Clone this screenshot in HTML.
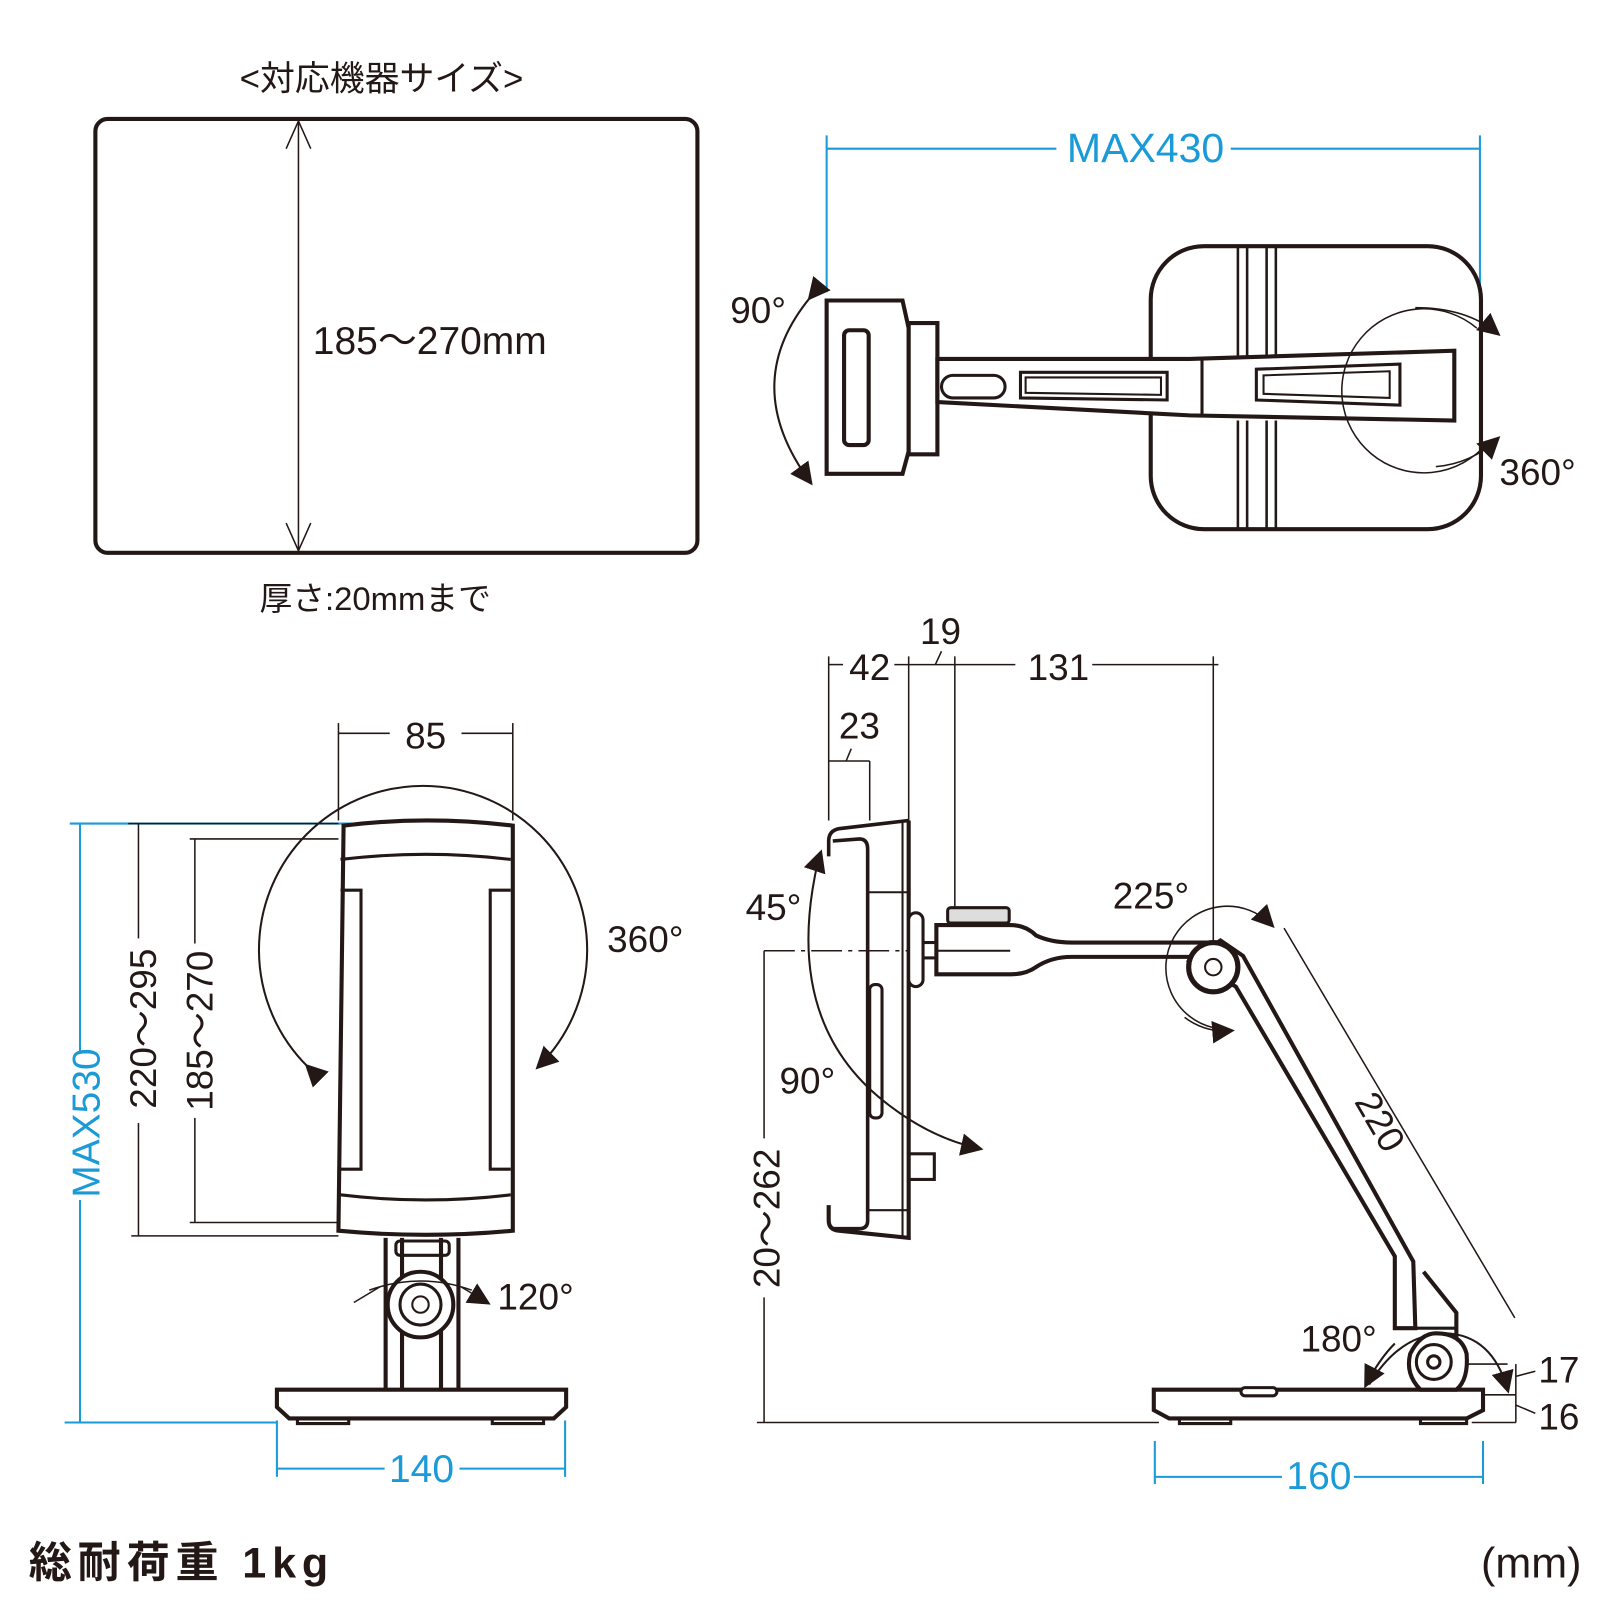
<!DOCTYPE html>
<html><head><meta charset="utf-8"><style>
html,body{margin:0;padding:0;background:#fff}
svg{display:block}
text{font-family:"Liberation Sans","Noto Sans CJK JP",sans-serif;fill:#231815}
.b{fill:#1a9ad6}
</style></head><body>
<svg width="1600" height="1600" viewBox="0 0 1600 1600" xmlns="http://www.w3.org/2000/svg">
<defs>
<marker id="ahb" markerWidth="22" markerHeight="22" refX="18" refY="11" orient="auto" markerUnits="userSpaceOnUse"><path d="M0,0 L22,11 L0,22 Z" fill="#231815"/></marker>
</defs>
<g transform="scale(1.0256)">
<g fill="none" stroke="#231815">
<!-- top-left -->
<rect x="93" y="116" width="587" height="423" rx="12" stroke-width="4"/>
<line x1="291" y1="118" x2="291" y2="537" stroke-width="1.5"/>
<path d="M279,145 L291,118 L303,145 M279,510 L291,537 L303,510" stroke-width="1.5"/>

<!-- top-right -->
<g stroke="#1a9ad6" stroke-width="2">
<line x1="806" y1="145" x2="1030" y2="145"/><line x1="1200" y1="145" x2="1443" y2="145"/>
<line x1="806" y1="132" x2="806" y2="285"/><line x1="1443" y1="132" x2="1443" y2="285"/>
</g>
<rect x="1122" y="240" width="322" height="276" rx="52" stroke-width="4"/>
<g stroke-width="2.5"><line x1="1207" y1="240" x2="1207" y2="350"/><line x1="1216" y1="240" x2="1216" y2="350"/><line x1="1235" y1="240" x2="1235" y2="350"/><line x1="1244" y1="240" x2="1244" y2="350"/>
<line x1="1207" y1="410" x2="1207" y2="516"/><line x1="1216" y1="410" x2="1216" y2="516"/><line x1="1235" y1="410" x2="1235" y2="516"/><line x1="1244" y1="410" x2="1244" y2="516"/></g>
<path d="M806,293 L880,293 L886,320 L886,440 L880,462 L806,462 Z" stroke-width="4" fill="#fff"/>
<rect x="823" y="322" width="24" height="112" rx="5" stroke-width="4"/>
<rect x="886" y="315" width="28" height="128" stroke-width="4" fill="#fff"/>
<path d="M914,350 L1160,350 L1418,342 L1418,410 L1160,405 L914,392 Z" stroke-width="4" fill="#fff"/>
<rect x="918" y="366" width="62" height="22" rx="11" stroke-width="3"/>
<path d="M995,363 L1138,363 L1138,390 L995,388 Z" stroke-width="3"/>
<path d="M1000,368 L1132,368 L1132,385 L1000,383 Z" stroke-width="2"/>
<path d="M1225,360 L1365,355 L1365,395 L1225,390 Z" stroke-width="3"/>
<path d="M1232,366 L1355,362 L1355,388 L1232,384 Z" stroke-width="2"/>
<line x1="1172" y1="350" x2="1172" y2="405" stroke-width="3"/>
<path d="M1440,320 A80,80 0 1 0 1450,432" stroke-width="1.5"/>
<path d="M1380,300 Q1430,300 1460,325" stroke-width="1.5" marker-end="url(#ahb)"/>
<path d="M1400,455 Q1435,452 1460,428" stroke-width="1.5" marker-end="url(#ahb)"/>
<path d="M790,290 Q720,375 790,470" stroke-width="2" marker-start="url(#ahb)" marker-end="url(#ahb)"/>

<!-- bottom-left -->
<g stroke="#1a9ad6" stroke-width="2">
<line x1="78" y1="803" x2="78" y2="1025"/><line x1="78" y1="1170" x2="78" y2="1387"/>
<line x1="68" y1="803" x2="350" y2="803"/><line x1="63" y1="1387" x2="270" y2="1387"/>
<line x1="270" y1="1432" x2="375" y2="1432"/><line x1="448" y1="1432" x2="551" y2="1432"/>
<line x1="270" y1="1385" x2="270" y2="1440"/><line x1="551" y1="1385" x2="551" y2="1440"/>
</g>
<g stroke-width="1.5">
<line x1="135" y1="803" x2="135" y2="915"/><line x1="135" y1="1095" x2="135" y2="1205"/>
<line x1="125" y1="803" x2="330" y2="803"/><line x1="128" y1="1205" x2="330" y2="1205"/>
<line x1="190" y1="818" x2="190" y2="920"/><line x1="190" y1="1090" x2="190" y2="1192"/>
<line x1="185" y1="818" x2="330" y2="818"/><line x1="185" y1="1192" x2="330" y2="1192"/>
<line x1="330" y1="715" x2="380" y2="715"/><line x1="450" y1="715" x2="500" y2="715"/>
<line x1="330" y1="705" x2="330" y2="800"/><line x1="500" y1="705" x2="500" y2="800"/>
</g>
<path d="M335,805 Q415,795 500,805 L500,1200 Q415,1208 330,1200 Z" stroke-width="4" fill="#fff"/>
<path d="M332,838 Q415,828 498,838 M332,1165 Q415,1175 498,1165" stroke-width="3"/>
<path d="M332,868 L352,868 L352,1140 L332,1140 M498,868 L478,868 L478,1140 L498,1140" stroke-width="3"/>
<path d="M300,1040 A160,160 0 1 1 525,1040" stroke-width="2" marker-start="url(#ahb)" marker-end="url(#ahb)"/>
<path d="M376,1207 L376,1355 M447,1207 L447,1355 M392,1207 L392,1355 M430,1207 L430,1355" stroke-width="4"/>
<rect x="386" y="1210" width="52" height="14" rx="4" stroke-width="3"/>
<circle cx="410" cy="1272" r="32" stroke-width="4" fill="#fff"/>
<circle cx="410" cy="1272" r="20" stroke-width="3"/>
<circle cx="410" cy="1272" r="8" stroke-width="2"/>
<path d="M360,1258 Q410,1240 460,1258" stroke-width="1.5"/>
<path d="M370,1255 L345,1270 M450,1255 L475,1270" stroke-width="1.5" marker-end="url(#ahb)"/>
<path d="M270,1355 L552,1355 L552,1372 L540,1383 L282,1383 L270,1372 Z" stroke-width="4" fill="#fff"/>
<path d="M290,1383 L340,1383 L340,1388 L290,1388 Z M480,1383 L530,1383 L530,1388 L480,1388 Z" stroke-width="3"/>

<!-- bottom-right -->
<g stroke-width="1.5">
<line x1="808" y1="648" x2="822" y2="648"/><line x1="872" y1="648" x2="990" y2="648"/><line x1="1065" y1="648" x2="1188" y2="648"/>
<line x1="808" y1="640" x2="808" y2="800"/><line x1="886" y1="640" x2="886" y2="800"/><line x1="931" y1="640" x2="931" y2="900"/><line x1="1183" y1="640" x2="1183" y2="943"/>
<line x1="918" y1="635" x2="912" y2="648"/>
<line x1="808" y1="742" x2="848" y2="742"/><line x1="848" y1="742" x2="848" y2="800"/><line x1="830" y1="730" x2="825" y2="742"/>
<line x1="745" y1="927" x2="1183" y2="927" stroke-dasharray="30,6,4,6"/>
<line x1="745" y1="927" x2="745" y2="1110"/><line x1="745" y1="1265" x2="745" y2="1387"/>
<line x1="738" y1="1387" x2="1130" y2="1387"/>
<line x1="1252" y1="905" x2="1477" y2="1285"/>
<line x1="1395" y1="1330" x2="1470" y2="1330"/><line x1="1435" y1="1360" x2="1478" y2="1360"/><line x1="1435" y1="1387" x2="1478" y2="1387"/>
<line x1="1478" y1="1330" x2="1478" y2="1387"/>
<line x1="1478" y1="1342" x2="1497" y2="1337"/><line x1="1478" y1="1370" x2="1497" y2="1378"/>
</g>
<g stroke="#1a9ad6" stroke-width="2">
<line x1="1126" y1="1440" x2="1250" y2="1440"/><line x1="1320" y1="1440" x2="1446" y2="1440"/>
<line x1="1126" y1="1405" x2="1126" y2="1447"/><line x1="1446" y1="1405" x2="1446" y2="1447"/>
</g>
<path d="M886,800 L886,1207 L818,1200 Q808,1199 808,1190 L808,1175" stroke-width="4"/>
<path d="M886,800 L818,808 Q808,810 808,820 L808,835 M812,820 L838,818 Q846,818 846,828 L846,1190 Q846,1198 838,1198 L812,1198" stroke-width="3.5"/>
<line x1="846" y1="870" x2="886" y2="870" stroke-width="2"/><line x1="846" y1="1180" x2="886" y2="1180" stroke-width="2"/>
<line x1="880" y1="800" x2="880" y2="1207" stroke-width="2"/>
<rect x="848" y="960" width="12" height="130" rx="5" stroke-width="3"/>
<rect x="886" y="1125" width="25" height="25" stroke-width="3"/>
<rect x="886" y="890" width="14" height="72" rx="7" stroke-width="3" fill="#fff"/>
<rect x="900" y="919" width="13" height="15" stroke-width="3" fill="#fff"/>
<rect x="924" y="885" width="60" height="15" rx="3" stroke-width="3" fill="#ddd"/>
<path d="M913,902 L985,902 Q1000,902 1010,912 Q1025,919 1045,919 L1183,919 L1183,933 L1045,933 Q1025,933 1010,943 Q1000,950 985,950 L913,950 Z" stroke-width="4" fill="#fff"/>
<line x1="913" y1="927" x2="985" y2="927" stroke-width="2"/>
<path d="M1160,937 L1190,917 L1212,932 L1378,1230 L1380,1295 L1360,1295 L1360,1225 L1205,962 Z" stroke-width="4" fill="#fff"/>
<path d="M1388,1240 L1420,1280 L1420,1345" stroke-width="4"/>
<path d="M1360,1295 L1420,1295" stroke-width="3"/>
<circle cx="1183" cy="943" r="24" stroke-width="5" fill="#fff"/>
<circle cx="1183" cy="943" r="8" stroke-width="2"/>
<path d="M1183,1002 A60,60 0 1 1 1240,902" stroke-width="1.5" marker-end="url(#ahb)"/>
<path d="M1155,992 Q1175,1007 1200,1005" stroke-width="1.5" marker-end="url(#ahb)"/>
<path d="M798,838 Q760,1000 870,1080 Q910,1110 955,1120" stroke-width="2" marker-end="url(#ahb)"/>
<path d="M798,838 L800,832" stroke-width="2" marker-end="url(#ahb)"/>
<path d="M1125,1355 L1446,1355 L1446,1375 L1430,1383 L1140,1383 L1125,1375 Z" stroke-width="4" fill="#fff"/>
<rect x="1210" y="1353" width="35" height="8" rx="4" stroke-width="3" fill="#fff"/>
<path d="M1150,1383 L1200,1383 L1200,1388 L1150,1388 Z M1385,1383 L1430,1383 L1430,1388 L1385,1388 Z" stroke-width="3"/>
<path d="M1385,1355 Q1370,1340 1375,1320 Q1385,1300 1400,1300 Q1425,1300 1430,1320 Q1432,1345 1420,1355 Z" stroke-width="4" fill="#fff"/>
<circle cx="1398" cy="1328" r="17" stroke-width="3"/><circle cx="1398" cy="1328" r="6" stroke-width="3"/>
<path d="M1335,1350 Q1365,1300 1410,1300 Q1455,1302 1470,1355" stroke-width="2" marker-end="url(#ahb)"/>
<path d="M1360,1310 Q1345,1325 1332,1350" stroke-width="2" marker-end="url(#ahb)"/>
</g>
<!-- texts -->
<text x="372" y="88" font-size="34" text-anchor="middle">&lt;対応機器サイズ&gt;</text>
<text x="305" y="345" font-size="38">185～270mm</text>
<text x="253" y="595" font-size="32">厚さ:20mmまで</text>
<text x="1117" y="158" font-size="40" text-anchor="middle" class="b">MAX430</text>
<text x="712" y="315" font-size="36">90°</text>
<text x="1462" y="473" font-size="36">360°</text>
<text x="415" y="730" font-size="36" text-anchor="middle">85</text>
<text x="592" y="928" font-size="36">360°</text>
<text x="485" y="1277" font-size="36">120°</text>
<text x="411" y="1445" font-size="38" text-anchor="middle" class="b">140</text>
<text transform="translate(97,1095) rotate(-90)" font-size="38" text-anchor="middle" class="b">MAX530</text>
<text transform="translate(152,1003) rotate(-90)" font-size="36" text-anchor="middle">220～295</text>
<text transform="translate(207,1005) rotate(-90)" font-size="36" text-anchor="middle">185～270</text>
<text x="848" y="663" font-size="36" text-anchor="middle">42</text>
<text x="917" y="628" font-size="36" text-anchor="middle">19</text>
<text x="1032" y="663" font-size="36" text-anchor="middle">131</text>
<text x="838" y="720" font-size="36" text-anchor="middle">23</text>
<text x="727" y="897" font-size="36">45°</text>
<text x="1085" y="886" font-size="36">225°</text>
<text x="760" y="1066" font-size="36">90°</text>
<text transform="translate(760,1188) rotate(-90)" font-size="36" text-anchor="middle">20～262</text>
<text transform="translate(1335,1100) rotate(60)" font-size="36" text-anchor="middle">220</text>
<text x="1268" y="1318" font-size="36">180°</text>
<text x="1500" y="1348" font-size="36">17</text>
<text x="1500" y="1394" font-size="36">16</text>
<text x="1286" y="1452" font-size="38" text-anchor="middle" class="b">160</text>
<text x="28" y="1538" font-size="42" font-weight="bold" textLength="292" lengthAdjust="spacing">総耐荷重 1kg</text>
<text x="1542" y="1538" font-size="42" text-anchor="end">(mm)</text>
</g>
</svg>
</body></html>
